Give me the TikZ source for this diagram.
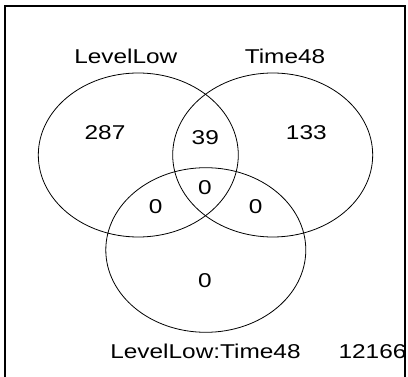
\documentclass[tikz,border=0pt]{standalone}
\usepackage{fontspec}
\setmainfont{Liberation Sans}
\usepackage{graphicx}
\begin{document}
\begin{tikzpicture}[x=1pt,y=-1pt,
  lbl/.style={inner sep=0pt, anchor=base, font=\fontsize{20}{24}\selectfont},
  set/.style={draw=black, line width=0.8pt}]
\useasboundingbox (0,0) rectangle (408,377);
\coordinate (fbl) at (5,377);
\coordinate (ftl) at (5,6);
\coordinate (ftr) at (405,6);
\coordinate (fbr) at (405,377);
\draw[line width=1.1pt] (fbl) -- (ftl) -- (ftr) -- (fbr);
\draw[set] (138.3,155) ellipse [x radius=100, y radius=82];
\draw[set] (272.7,155) ellipse [x radius=100, y radius=82];
\draw[set] (205.8,250) ellipse [x radius=100, y radius=82.3];
\node[lbl] (la) at (125.8,64) {\scalebox{1.22}[1]{LevelLow}};
\node[lbl] (lb) at (285,64) {\scalebox{1.22}[1]{Time48}};
\node[lbl] (lc) at (205.5,358.3) {\scalebox{1.22}[1]{LevelLow:Time48}};
\node[lbl] (n0) at (372.5,358.3) {\scalebox{1.22}[1]{12166}};
\node[lbl] (na) at (105,140) {\scalebox{1.22}[1]{287}};
\node[lbl] (nb) at (306.3,140) {\scalebox{1.22}[1]{133}};
\node[lbl] (nab) at (205.3,145) {\scalebox{1.22}[1]{39}};
\node[lbl] (nabc) at (205,195) {\scalebox{1.22}[1]{0}};
\node[lbl] (nac) at (155.7,214) {\scalebox{1.22}[1]{0}};
\node[lbl] (nbc) at (255.7,214) {\scalebox{1.22}[1]{0}};
\node[lbl] (nc) at (205,287.7) {\scalebox{1.22}[1]{0}};
\end{tikzpicture}
\end{document}
